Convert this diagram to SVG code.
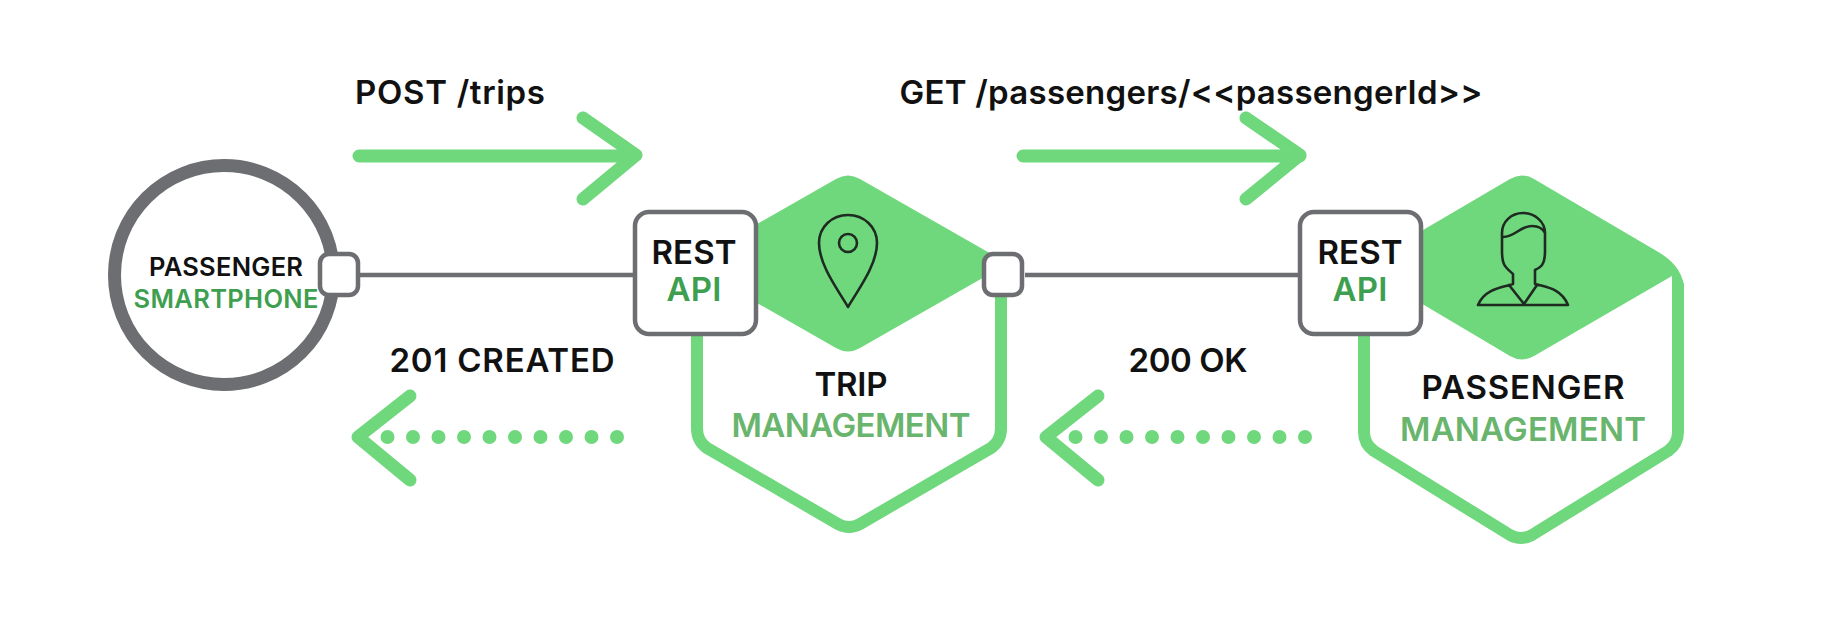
<svg xmlns="http://www.w3.org/2000/svg" width="1830" height="620" viewBox="0 0 1830 620">
<style>
text{font-family:"Inter","Liberation Sans",sans-serif;font-weight:600;fill:#111;text-anchor:middle}
.l{font-size:33px}
.s{font-size:25.500px}
.dg{fill:#3f9f50}
.lg{fill:#6ab56d}
.fill{fill:#6fd87c;stroke:none}
.out{fill:none;stroke:#6fd87c;stroke-width:12;stroke-linecap:round;stroke-linejoin:round}
.arrow{fill:none;stroke:#6fd87c;stroke-width:13;stroke-linecap:round;stroke-linejoin:round}
.dots{fill:none;stroke:#6fd87c;stroke-width:14;stroke-linecap:round;stroke-dasharray:0 25.500}
.box{fill:#fff;stroke:#6d6e71;stroke-width:4.500}
.wire{fill:none;stroke:#6d6e71;stroke-width:4.500}
.icon{fill:none;stroke:#1f2a22;stroke-width:2.600;stroke-linejoin:round;stroke-linecap:round}
</style>
<g id="connectors">
<path class="wire" d="M359 275H634"/>
<path class="wire" d="M1025 275H1299"/>
<path class="arrow" d="M359 156H634M583 118L636 155L583 199"/>
<path class="arrow" d="M1023 156H1300M1246 118L1300 155L1246 199"/>
<path class="arrow" d="M410 396L358 437L410 480"/>
<path class="dots" d="M387.500 437H620"/>
<path class="arrow" d="M1098 396L1046 437L1098 480"/>
<path class="dots" d="M1075.500 437H1308"/>
</g>
<g id="label-post"><text class="l" x="450" y="104" textLength="190">POST /trips</text></g>
<g id="label-get"><text class="l" x="1191" y="104" textLength="583">GET /passengers/&lt;&lt;passengerId&gt;&gt;</text></g>
<g id="label-201"><text class="l" x="502" y="372" textLength="225">201 CREATED</text></g>
<g id="label-200"><text class="l" x="1188" y="372" textLength="119">200 OK</text></g>
<g id="passenger-smartphone">
<circle cx="224" cy="275" r="109.500" fill="#fff" stroke="#6d6e71" stroke-width="13"/>
<text class="s" x="226" y="276" textLength="154">PASSENGER</text>
<text class="s dg" x="226" y="308" textLength="185">SMARTPHONE</text>
<rect class="box" x="320" y="254" width="38" height="41" rx="9"/>
</g>
<g id="trip-management">
<path class="out" d="M697 335V428Q697 441 707 448L838 524Q849 530 860 524L991 448Q1001 441 1001 428V296"/>
<path class="fill" d="M836 179Q848 172 860 179L1008 263.500L860 348Q848 355 836 348L688 263.500Z"/>
<path class="icon" d="M848 307C838 290 819 265 819 243C819 227 832 215 848 215C864 215 877 227 877 243C877 265 858 290 848 307Z"/>
<circle class="icon" cx="848" cy="243" r="9"/>
<text class="l" x="851" y="396" textLength="73">TRIP</text>
<text class="l lg" x="851" y="437" textLength="239">MANAGEMENT</text>
<rect class="box" x="635" y="212" width="121" height="122" rx="14"/>
<text class="l" x="694" y="264" textLength="85">REST</text>
<text class="l dg" x="694" y="301" textLength="55">API</text>
<rect class="box" x="984" y="254" width="38" height="41" rx="9"/>
</g>
<g id="passenger-management">
<path class="out" d="M1364 335V432Q1364 444 1374 451L1510 535Q1521 541 1532 535L1668 451Q1678 444 1678 432V285"/>
<path class="fill" d="M1510 179Q1522 172 1534 179L1660 253Q1684 268 1684 290L1672 290V276L1534 356Q1522 363 1510 356L1360 267Z"/>
<path class="icon" d="M1503 237C1515 237 1520 226 1532 226C1539 226 1543 229 1545 233M1523 213C1511 213 1502 222 1502 233V251C1502 265 1505 267 1513 274V284C1505 287 1485 288 1478 305H1568C1561 288 1545 287 1535 284V270C1541 267 1545 265 1545 251V233C1545 222 1535 213 1523 213ZM1509 285L1524 304L1537 285"/>
<text class="l" x="1523" y="399" textLength="203">PASSENGER</text>
<text class="l lg" x="1523" y="441" textLength="246">MANAGEMENT</text>
<rect class="box" x="1300" y="212" width="121" height="122" rx="14"/>
<text class="l" x="1360" y="264" textLength="85">REST</text>
<text class="l dg" x="1360" y="301" textLength="55">API</text>
</g>
</svg>
